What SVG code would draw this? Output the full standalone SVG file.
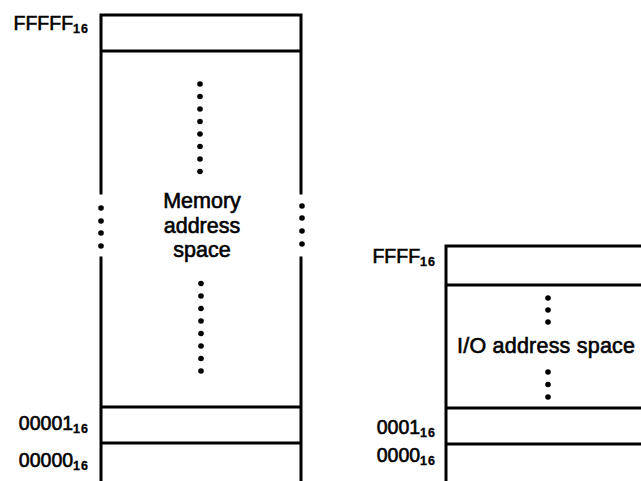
<svg xmlns="http://www.w3.org/2000/svg" width="641" height="481" viewBox="0 0 641 481">
<defs>
<style>
.ln{stroke:#000;stroke-width:3;fill:none;stroke-linecap:square}
.dot{fill:#000}
.lbl{font-family:"Liberation Sans",Arial,sans-serif;font-size:19.5px;fill:#000;stroke:#000;stroke-width:0.6;text-anchor:end}
.sub{font-size:12.5px;font-weight:bold;letter-spacing:1px;stroke-width:0.3}
.txt{font-family:"Liberation Sans",Arial,sans-serif;font-size:21.5px;fill:#000;stroke:#000;stroke-width:0.6;text-anchor:middle}
</style>
<circle id="d" r="2.8" class="dot"/>
</defs>
<rect width="641" height="481" fill="#fff"/>

<g id="memory-space">
<path class="ln" d="M101,481 V258 M101,193 V15 H301 V193 M301,258 V481 M101,51 H301 M101,407 H301 M101,443 H301"/>
<g id="mem-left-dots">
<use href="#d" x="101" y="208"/><use href="#d" x="101" y="221"/><use href="#d" x="101" y="233"/><use href="#d" x="101" y="246"/>
</g>
<g id="mem-right-dots">
<use href="#d" x="302" y="206"/><use href="#d" x="302" y="218"/><use href="#d" x="302" y="231"/><use href="#d" x="302" y="244"/>
</g>
<g id="mem-top-dots">
<use href="#d" x="200" y="84"/><use href="#d" x="200" y="96.5"/><use href="#d" x="200" y="109"/><use href="#d" x="200" y="121.5"/><use href="#d" x="200" y="134"/><use href="#d" x="200" y="146.5"/><use href="#d" x="200" y="159"/><use href="#d" x="200" y="171.5"/>
</g>
<g id="mem-bottom-dots">
<use href="#d" x="201" y="283.5"/><use href="#d" x="201" y="296"/><use href="#d" x="201" y="308.5"/><use href="#d" x="201" y="321"/><use href="#d" x="201" y="333.5"/><use href="#d" x="201" y="346"/><use href="#d" x="201" y="358.5"/><use href="#d" x="201" y="371"/>
</g>
<text class="txt" x="202" y="208">Memory</text>
<text class="txt" x="202" y="233">address</text>
<text class="txt" x="202" y="257">space</text>
</g>

<g id="memory-labels">
<text class="lbl" x="89" y="30">FFFFF<tspan class="sub" dy="3">16</tspan></text>
<text class="lbl" x="89" y="430">00001<tspan class="sub" dy="3">16</tspan></text>
<text class="lbl" x="89" y="467">00000<tspan class="sub" dy="3">16</tspan></text>
</g>

<g id="io-space">
<path class="ln" d="M446,481 V246 H642 M446,285 H642 M446,408 H642 M446,444 H642"/>
<use href="#d" x="548" y="298"/><use href="#d" x="548" y="310"/><use href="#d" x="548" y="322"/>
<use href="#d" x="548" y="372"/><use href="#d" x="548" y="384.5"/><use href="#d" x="548" y="397"/>
<text class="txt" x="546" y="353" textLength="178" lengthAdjust="spacing">I/O address space</text>
</g>

<g id="io-labels">
<text class="lbl" x="436" y="263">FFFF<tspan class="sub" dy="3">16</tspan></text>
<text class="lbl" x="436" y="434">0001<tspan class="sub" dy="3">16</tspan></text>
<text class="lbl" x="436" y="462">0000<tspan class="sub" dy="3">16</tspan></text>
</g>
</svg>
